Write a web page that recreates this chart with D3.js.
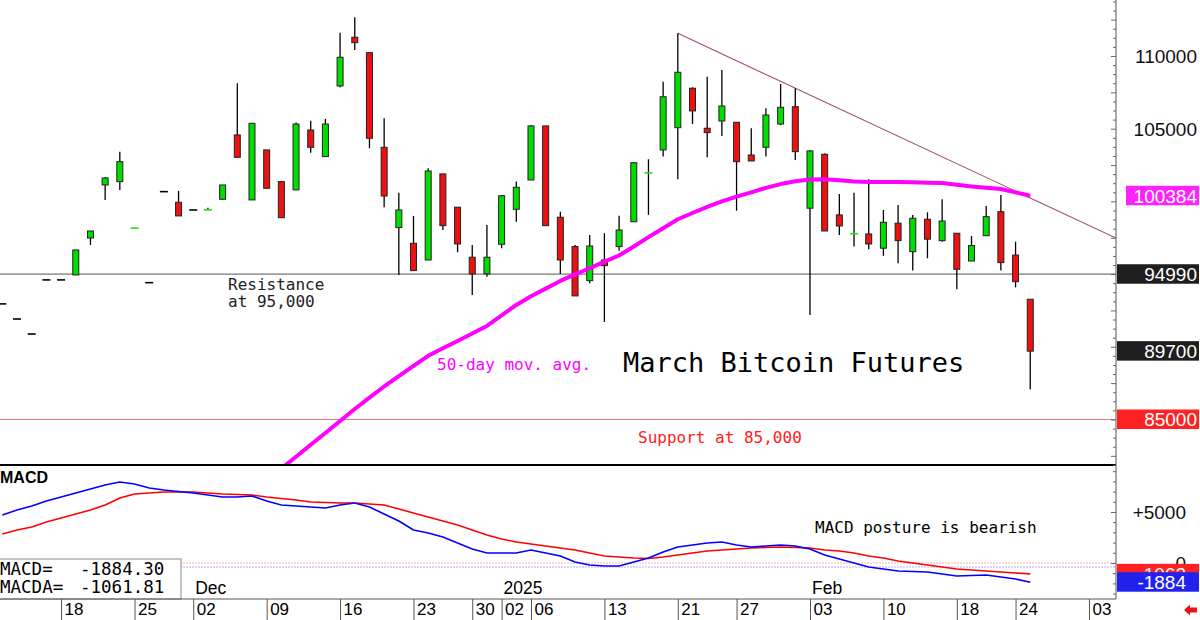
<!DOCTYPE html>
<html>
<head>
<meta charset="utf-8">
<script src="https://cdnjs.cloudflare.com/ajax/libs/d3/7.8.5/d3.min.js"></script>
<style>
    body { margin: 0; background: #fff; }
    svg { display: block; }
</style>
</head>
<body>
<svg id="chart" width="1200" height="620"></svg>
<script>
// trading days (last five are future slots on the axis)
const days = [
    '2024-11-12', '2024-11-13', '2024-11-14', '2024-11-15', '2024-11-18', '2024-11-19', '2024-11-20', '2024-11-21', '2024-11-22',
    '2024-11-25', '2024-11-26', '2024-11-27', '2024-11-29', '2024-12-02', '2024-12-03', '2024-12-04', '2024-12-05', '2024-12-06',
    '2024-12-09', '2024-12-10', '2024-12-11', '2024-12-12', '2024-12-13', '2024-12-16', '2024-12-17', '2024-12-18', '2024-12-19',
    '2024-12-20', '2024-12-23', '2024-12-24', '2024-12-26', '2024-12-27', '2024-12-30', '2024-12-31', '2025-01-02', '2025-01-03',
    '2025-01-06', '2025-01-07', '2025-01-08', '2025-01-09', '2025-01-10', '2025-01-13', '2025-01-14', '2025-01-15', '2025-01-16',
    '2025-01-17', '2025-01-21', '2025-01-22', '2025-01-23', '2025-01-24', '2025-01-27', '2025-01-28', '2025-01-29', '2025-01-30',
    '2025-01-31', '2025-02-03', '2025-02-04', '2025-02-05', '2025-02-06', '2025-02-07', '2025-02-10', '2025-02-11', '2025-02-12',
    '2025-02-13', '2025-02-14', '2025-02-18', '2025-02-19', '2025-02-20', '2025-02-21', '2025-02-24', '2025-02-25',
    '2025-02-26', '2025-02-27', '2025-02-28', '2025-03-03', '2025-03-04'
];

const open = [
    92950, 91910, 90880, 94600, 94600, 94940, 97480, 101130, 101360,
    98140, 94410, 100670, 99940, 99410, 99400, 100145, 104570, 100100,
    103540, 101360, 100790, 104910, 103080, 107940, 111290, 110230, 103720,
    98200, 97120, 95970, 101890, 99600, 96160, 95010, 97050, 99460,
    101470, 105190, 98910, 96890, 94550, 95970, 96890, 98600, 101900,
    103540, 105070, 107780, 105030, 105530, 105440, 103190, 103720, 105320,
    106510, 99530, 103240, 99070, 97740, 97760, 96780, 98500, 96540,
    98770, 97300, 97810, 95900, 97640, 99290, 96310, 93270
];
const high = [
    92950, 91910, 90880, 94600, 94600, 96660, 97965, 101680, 103420,
    98160, 94410, 100670, 100720, 99410, 99570, 101128, 108120, 105370,
    103540, 101360, 105420, 105550, 105670, 111600, 112660, 110230, 105720,
    100600, 99000, 102280, 101890, 99600, 97000, 98380, 100440, 101360,
    105250, 105190, 99290, 97000, 97690, 97810, 99020, 102660, 102900,
    108230, 111560, 107850, 108580, 109040, 105440, 105030, 106400, 108070,
    107780, 103540, 103290, 100510, 100600, 101520, 99410, 99750, 99070,
    99250, 100150, 97810, 97620, 99680, 100440, 97230, 93270
];
const low = [
    92950, 91910, 90880, 94600, 94600, 94940, 97000, 100100, 100790,
    98140, 94410, 100670, 99000, 99410, 99400, 100145, 103030, 100100,
    100900, 98880, 100790, 103350, 103080, 107850, 110410, 103650, 99600,
    94940, 95240, 95970, 98030, 96500, 93560, 94820, 96780, 98600,
    101470, 98330, 95010, 93500, 94370, 91710, 96610, 98600, 99070,
    103080, 101520, 105320, 103030, 104500, 99360, 102780, 103080, 105250,
    102850, 92190, 97965, 97690, 96890, 96710, 96250, 95740, 95240,
    96090, 97230, 93960, 95900, 97640, 95240, 94090, 87080
];
const close = [
    92950, 91910, 90880, 94600, 94600, 96660, 97965, 101610, 102730,
    98160, 94410, 100670, 99000, 99410, 99420, 101128, 103030, 105370,
    100900, 98880, 105320, 103720, 105320, 109910, 110920, 104340, 100370,
    99410, 95240, 102090, 98330, 97070, 95010, 96160, 100390, 100970,
    105190, 98330, 95970, 93500, 96930, 95580, 98030, 102660, 101960,
    107200, 108880, 106220, 104730, 106560, 102730, 102780, 105940, 106470,
    103420, 103470, 97965, 98310, 97780, 97070, 98560, 97300, 98840,
    97400, 98650, 95330, 96960, 98950, 95790, 94480, 89700
];

// 50-day moving average, starts off the bottom of the panel
const ma50 = [
    null, null, null, null, null, null, null, null, null,
    null, null, null, null, null, null, null, null, null,
    80810, 81630, 82440, 83260, 84070, 84900, 85720, 86500, 87270,
    87980, 88680, 89380, 89900, 90400, 90920, 91430, 92160, 92880,
    93480, 94000, 94530, 94980, 95400, 95860, 96280, 96900, 97540,
    98150, 98770, 99200, 99620, 100000, 100330, 100620, 100930, 101190,
    101380, 101500, 101530, 101450, 101370, 101340, 101335, 101335, 101310,
    101290, 101260, 101140, 101030, 100940, 100850, 100620, 100384
];

const macd = [
    4706, 5196, 5588, 6078, 6471, 6863, 7255, 7647, 7941,
    7745, 7353, 7157, 7010, 6863, 6667, 6471, 6471, 6569,
    6078, 5686, 5588, 5490, 5392, 5686, 5882, 5490, 4804,
    4118, 3235, 2941, 2549, 1961, 1373, 980, 980, 980,
    1275, 980, 686, 98, -196, -294, -294, 98, 490,
    1078, 1569, 1765, 1961, 2059, 1765, 1569, 1667, 1765,
    1667, 1373, 784, 392, 0, -392, -588, -784, -833,
    -882, -1078, -1275, -1225, -1176, -1373, -1569, -1884.30
];
const macdSignal = [
    2843, 3235, 3529, 4020, 4412, 4804, 5196, 5686, 6373,
    6765, 6863, 6961, 6961, 6961, 6863, 6765, 6716, 6667,
    6471, 6324, 6176, 5980, 5931, 5882, 5882, 5784, 5686,
    5294, 4902, 4510, 4118, 3725, 3235, 2745, 2353, 2059,
    1863, 1667, 1471, 1275, 980, 686, 588, 490, 441,
    588, 784, 980, 1176, 1275, 1373, 1471, 1520, 1569,
    1520, 1471, 1275, 1176, 980, 686, 490, 196, 0,
    -196, -392, -588, -686, -784, -882, -980, -1061.81
];

const weekTicks = [
    '2024-11-18', '2024-11-25', '2024-12-02', '2024-12-09', '2024-12-16', '2024-12-23', '2024-12-30', '2025-01-02',
    '2025-01-06', '2025-01-13', '2025-01-21', '2025-01-27', '2025-02-03', '2025-02-10', '2025-02-18', '2025-02-24', '2025-03-03'
];
const monthTicks = [['2024-12-02', 'Dec'], ['2025-01-02', '2025'], ['2025-02-03', 'Feb']];
// 100000 / 95000 / 90000 sit under the flags, so only these show
const priceLabels = [110000, 105000];
const trendLine = [['2025-01-21', 111560], ['end', 97480]];
const resistance = 95000;
const support = 85000;
const priceFlags = [
    { value: 100384, text: '100384', color: '#ff22ff', x0: 1126 },
    { value: 94990, text: '94990', color: '#1e1e1e', x0: 1117 },
    { value: 89700, text: '89700', color: '#1e1e1e', x0: 1117 },
    { value: 85000, text: '85000', color: '#ff2222', x0: 1117 }
];

const mono = '"DejaVu Sans Mono", monospace';
const sans = '"Liberation Sans", Arial, sans-serif';
const axisX = 1116;
const svg = d3.select('#chart');

const x = d3.scaleLinear().domain([-0.16, 75.84]).range([0, axisX]);
const dayX = d => d === 'end' ? axisX : x(days.indexOf(d));
const y = d3.scaleLinear().domain([81870, 113850]).range([465, 0]);
const my = d3.scaleLinear().domain([0, 5000]).range([563, 512]);

svg.append('defs').append('clipPath').attr('id', 'priceClip')
    .append('rect').attr('x', 0).attr('y', 0).attr('width', axisX).attr('height', 465);
svg.select('defs').append('clipPath').attr('id', 'macdClip')
    .append('rect').attr('x', 0).attr('y', 466).attr('width', axisX).attr('height', 133);

// ---- price panel
const price = svg.append('g').attr('clip-path', 'url(#priceClip)');

price.append('line')
    .attr('x1', 0).attr('x2', axisX)
    .attr('y1', y(resistance)).attr('y2', y(resistance))
    .attr('stroke', '#555').attr('stroke-width', 1);
price.append('line')
    .attr('x1', 0).attr('x2', axisX)
    .attr('y1', y(support)).attr('y2', y(support))
    .attr('stroke', '#f07575').attr('stroke-width', 1);

price.append('line')
    .attr('x1', dayX(trendLine[0][0])).attr('y1', y(trendLine[0][1]))
    .attr('x2', dayX(trendLine[1][0])).attr('y2', y(trendLine[1][1]))
    .attr('stroke', '#a0506e').attr('stroke-width', 1.1);

const bars = d3.range(close.length);

price.append('g').selectAll('line')
    .data(bars.filter(i => high[i] !== low[i]))
    .join('line')
    .attr('x1', i => x(i)).attr('x2', i => x(i))
    .attr('y1', i => y(high[i])).attr('y2', i => y(low[i]))
    .attr('stroke', '#000').attr('stroke-width', 1.3);

const isDash = i => Math.abs(y(open[i]) - y(close[i])) < 2;

price.append('g').selectAll('rect')
    .data(bars.filter(i => !isDash(i)))
    .join('rect')
    .attr('x', i => x(i) - 3)
    .attr('y', i => y(Math.max(open[i], close[i])))
    .attr('width', 6)
    .attr('height', i => Math.abs(y(open[i]) - y(close[i])))
    .attr('fill', i => close[i] > open[i] ? '#00dd00' : '#ee1111')
    .attr('stroke', '#222').attr('stroke-width', 1);

price.append('g').selectAll('line')
    .data(bars.filter(isDash))
    .join('line')
    .attr('x1', i => x(i) - 4).attr('x2', i => x(i) + 4)
    .attr('y1', i => y(close[i])).attr('y2', i => y(close[i]))
    .attr('stroke', i => open[i] === close[i] ? '#000' : '#22dd22')
    .attr('stroke-width', 1.6);

price.append('path')
    .datum(bars)
    .attr('fill', 'none')
    .attr('stroke', '#ff00ff')
    .attr('stroke-width', 4)
    .attr('stroke-linejoin', 'round')
    .attr('d', d3.line().defined(i => ma50[i] !== null).x(i => x(i)).y(i => y(ma50[i])));

svg.append('line')
    .attr('x1', 0).attr('x2', axisX).attr('y1', 465).attr('y2', 465)
    .attr('stroke', '#000').attr('stroke-width', 2);

// annotations
const note = (txt, tx, ty, size, color) => svg.append('text')
    .attr('x', tx).attr('y', ty)
    .attr('font-family', mono).attr('font-size', size)
    .attr('fill', color).attr('xml:space', 'preserve')
    .text(txt);

note('Resistance', 228, 290, 16, '#222');
note('at 95,000', 228, 306.5, 16, '#222');
note('50-day mov. avg.', 437, 370, 16, '#ff00ff');
note('March Bitcoin Futures', 623, 371.5, 27, '#000');
note('Support at 85,000', 638, 443, 16, '#ff2020');
note('MACD posture is bearish', 815, 533, 16, '#000');

// ---- MACD panel
const macdG = svg.append('g').attr('clip-path', 'url(#macdClip)');

macdG.append('line')
    .attr('x1', 0).attr('x2', axisX).attr('y1', my(0)).attr('y2', my(0))
    .attr('stroke', '#ffb0b0').attr('stroke-width', 1).attr('stroke-dasharray', '2,1');
macdG.append('line')
    .attr('x1', 0).attr('x2', axisX).attr('y1', my(0) + 4).attr('y2', my(0) + 4)
    .attr('stroke', '#b0b0ff').attr('stroke-width', 1).attr('stroke-dasharray', '2,1');

const macdLine = vals => d3.line().x(i => x(i)).y(i => my(vals[i]));

macdG.append('path').datum(bars)
    .attr('fill', 'none').attr('stroke', '#ff0000').attr('stroke-width', 1.6)
    .attr('d', macdLine(macdSignal));
macdG.append('path').datum(bars)
    .attr('fill', 'none').attr('stroke', '#0000ff').attr('stroke-width', 1.6)
    .attr('d', macdLine(macd));

svg.append('text')
    .attr('x', 0).attr('y', 483)
    .attr('font-family', sans).attr('font-size', 16).attr('font-weight', 'bold')
    .text('MACD');

const legend = svg.append('g');
legend.append('rect')
    .attr('x', -1).attr('y', 559).attr('width', 182).attr('height', 40)
    .attr('fill', '#fff').attr('stroke', '#888').attr('stroke-width', 1);
legend.append('text').attr('x', 0).attr('y', 575)
    .attr('font-family', mono).attr('font-size', 17.5).text('MACD=');
legend.append('text').attr('x', 0).attr('y', 593)
    .attr('font-family', mono).attr('font-size', 17.5).text('MACDA=');
legend.append('text').attr('x', 80).attr('y', 575)
    .attr('font-family', mono).attr('font-size', 17.5).text(d3.format('.2f')(macd[macd.length - 1]).replace('−', '-'));
legend.append('text').attr('x', 80).attr('y', 593)
    .attr('font-family', mono).attr('font-size', 17.5).text(d3.format('.2f')(macdSignal[macdSignal.length - 1]).replace('−', '-'));

// ---- date axis
const dateAxis = svg.append('g')
    .attr('transform', 'translate(0,599)')
    .call(d3.axisBottom(x)
        .tickValues(weekTicks.map(d => days.indexOf(d)))
        .tickSize(21)
        .tickFormat(i => days[i].slice(8)));
dateAxis.select('.domain').attr('d', `M0,0H${axisX}`).attr('stroke', '#555');
dateAxis.selectAll('.tick line').attr('stroke', '#555');
dateAxis.selectAll('.tick text')
    .attr('x', 3).attr('y', 16).attr('dy', 0)
    .attr('text-anchor', 'start')
    .attr('font-family', sans).attr('font-size', 17).attr('fill', '#000');

svg.append('g').selectAll('text')
    .data(monthTicks)
    .join('text')
    .attr('x', d => dayX(d[0]) + 2).attr('y', 594)
    .attr('font-family', sans).attr('font-size', 17.5)
    .text(d => d[1]);

// ---- right scale
svg.append('line')
    .attr('x1', axisX).attr('x2', axisX).attr('y1', 0).attr('y2', 599)
    .attr('stroke', '#555').attr('stroke-width', 1);

const minorTicks = d3.range(81875, 113850, 625);
svg.append('g')
    .attr('transform', `translate(${axisX},0)`)
    .call(d3.axisLeft(y).tickValues(minorTicks).tickSize(3).tickFormat(''))
    .call(g => g.select('.domain').remove())
    .call(g => g.selectAll('.tick line')
        .attr('x2', d => d % 2500 === 0 ? -5 : -3)
        .attr('stroke', '#666'));

svg.append('g')
    .attr('transform', `translate(${axisX},0)`)
    .call(d3.axisLeft(my).tickValues(d3.range(-3000, 9001, 1000)).tickSize(3).tickFormat(''))
    .call(g => g.select('.domain').remove())
    .call(g => g.selectAll('.tick line')
        .attr('x2', d => d % 5000 === 0 ? -5 : -3)
        .attr('stroke', '#666'));

svg.append('g').selectAll('text')
    .data(priceLabels)
    .join('text')
    .attr('x', 1197).attr('y', d => y(d))
    .attr('dy', '0.36em').attr('text-anchor', 'end')
    .attr('font-family', sans).attr('font-size', 19).attr('fill', '#111')
    .text(d => d);

const flag = svg.append('g').selectAll('g')
    .data(priceFlags)
    .join('g');
flag.append('rect')
    .attr('x', d => d.x0).attr('y', d => y(d.value) - 10)
    .attr('width', d => 1199 - d.x0).attr('height', 19.5)
    .attr('fill', d => d.color);
flag.append('text')
    .attr('x', 1197).attr('y', d => y(d.value))
    .attr('dy', '0.36em').attr('text-anchor', 'end')
    .attr('font-family', sans).attr('font-size', 19).attr('fill', '#fff')
    .text(d => d.text);

svg.append('text')
    .attr('x', 1186).attr('y', my(5000)).attr('dy', '0.36em').attr('text-anchor', 'end')
    .attr('font-family', sans).attr('font-size', 19).attr('fill', '#111')
    .text('+5000');
svg.append('text')
    .attr('x', 1186).attr('y', my(0)).attr('dy', '0.36em').attr('text-anchor', 'end')
    .attr('font-family', sans).attr('font-size', 19).attr('fill', '#111')
    .text('0');

const macdFlags = [
    { value: macdSignal[macdSignal.length - 1], color: '#ff2222' },
    { value: macd[macd.length - 1], color: '#2222ee' }
];
const mflag = svg.append('g').selectAll('g')
    .data(macdFlags)
    .join('g');
mflag.append('rect')
    .attr('x', 1117).attr('y', d => my(d.value) - 10)
    .attr('width', 82).attr('height', 19.5)
    .attr('fill', d => d.color);
mflag.append('text')
    .attr('x', 1186).attr('y', d => my(d.value))
    .attr('dy', '0.36em').attr('text-anchor', 'end')
    .attr('font-family', sans).attr('font-size', 19).attr('fill', '#fff')
    .text(d => '-' + Math.round(Math.abs(d.value)));

// little scroll arrow in the corner
svg.append('path')
    .attr('d', 'M1184,610 L1190,604.5 L1190,607.5 L1197,607.5 L1197,612.5 L1190,612.5 L1190,615.5 Z')
    .attr('fill', '#ee1111');
</script>
</body>
</html>
